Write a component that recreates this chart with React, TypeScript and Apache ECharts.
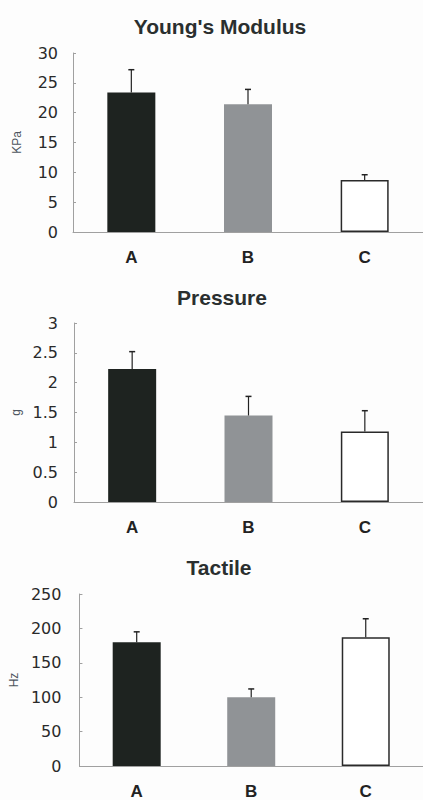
import React, { useEffect, useRef } from "react";
import * as echarts from "echarts";

const categories = ["A", "B", "C"];

const titles = ["Young's Modulus", "Pressure", "Tactile"];
const axisNames = ["KPa", "g", "Hz"];

const youngMeans = [23.4, 21.4, 8.7];
const youngErrors = [3.8, 2.5, 0.9];

const pressureMeans = [2.23, 1.45, 1.18];
const pressureErrors = [0.29, 0.32, 0.35];

const tactileMeans = [180, 100, 187];
const tactileErrors = [15, 12, 27];

const yMax = [30, 3, 250];
const yInterval = [5, 0.5, 50];

const barColors = ["#1e2320", "#909396", "#ffffff"];

const panelMeans = [youngMeans, pressureMeans, tactileMeans];
const panelErrors = [youngErrors, pressureErrors, tactileErrors];

// layout
const grids = [
  { left: 73, top: 53, width: 360, height: 179 },
  { left: 74, top: 323, width: 362, height: 179 },
  { left: 76, top: 594, width: 360, height: 178 },
];
const titlePos = [
  { x: 220, y: 26 },
  { x: 222, y: 297 },
  { x: 219, y: 567 },
];
const labelMargins = [15, 16, 18];
const nameGaps = [50, 48, 48];

export default function App() {
  const ref = useRef<HTMLDivElement>(null);

  useEffect(() => {
    if (!ref.current) return;
    const chart = echarts.init(ref.current, undefined, { renderer: "svg" });

    const xAxis: any[] = [];
    const yAxis: any[] = [];
    const series: any[] = [];
    const graphic: any[] = [];

    panelMeans.forEach((means, p) => {
      xAxis.push({
        type: "category",
        gridIndex: p,
        data: categories,
        boundaryGap: true,
        axisLine: { show: true, lineStyle: { color: "#a0a0a0", width: 1 } },
        axisTick: { show: false },
        axisLabel: {
          fontFamily: "Liberation Sans",
          fontWeight: "bold",
          fontSize: 17,
          color: "#222",
          margin: 17,
        },
        splitLine: { show: false },
      });
      yAxis.push({
        type: "value",
        gridIndex: p,
        min: 0,
        max: yMax[p],
        interval: yInterval[p],
        axisLine: { show: true, lineStyle: { color: "#a0a0a0", width: 1 } },
        axisTick: { show: true, inside: true, length: 3, lineStyle: { color: "#a0a0a0" } },
        axisLabel: {
          fontFamily: "DejaVu Sans",
          fontSize: 16,
          color: "#2a2a2a",
          margin: labelMargins[p],
        },
        splitLine: { show: false },
        name: axisNames[p],
        nameLocation: "middle",
        nameRotate: 90,
        nameGap: nameGaps[p],
        nameTextStyle: {
          fontFamily: "Liberation Sans",
          fontSize: 12,
          color: "#4d5560",
        },
      });
      series.push({
        type: "bar",
        xAxisIndex: p,
        yAxisIndex: p,
        barWidth: 48,
        data: means.map((v, i) => ({
          value: v,
          itemStyle: {
            color: barColors[i],
            borderColor: i === 2 ? "#2a2a2a" : barColors[i],
            borderWidth: i === 2 ? 1.5 : 0,
          },
        })),
        z: 2,
      });
      const errs = panelErrors[p];
      series.push({
        type: "custom",
        xAxisIndex: p,
        yAxisIndex: p,
        z: 3,
        data: means.map((v, i) => [i, v, errs[i]]),
        renderItem: (params: any, api: any) => {
          const x = api.value(0);
          const m = api.value(1);
          const e = api.value(2);
          const base = api.coord([x, m]);
          const top = api.coord([x, m + e]);
          return {
            type: "group",
            children: [
              {
                type: "line",
                shape: { x1: base[0], y1: base[1], x2: top[0], y2: top[1] },
                style: { stroke: "#222", lineWidth: 1.2 },
              },
              {
                type: "line",
                shape: { x1: top[0] - 3, y1: top[1], x2: top[0] + 3, y2: top[1] },
                style: { stroke: "#222", lineWidth: 1.5 },
              },
            ],
          };
        },
      });
      graphic.push({
        type: "text",
        x: titlePos[p].x,
        y: titlePos[p].y,
        style: {
          text: titles[p],
          fontFamily: "Liberation Sans",
          fontWeight: "bold",
          fontSize: 21,
          fill: "#2a2f2f",
          textAlign: "center",
          textVerticalAlign: "middle",
        },
      });
    });

    chart.setOption({
      animation: false,
      backgroundColor: "#fdfdfd",
      grid: grids.map((g) => ({ ...g, containLabel: false })),
      xAxis,
      yAxis,
      series,
      graphic,
    });

    return () => chart.dispose();
  }, []);

  return (
    <div
      ref={ref}
      style={{ position: "fixed", left: 0, top: 0, width: 423, height: 800 }}
    />
  );
}
